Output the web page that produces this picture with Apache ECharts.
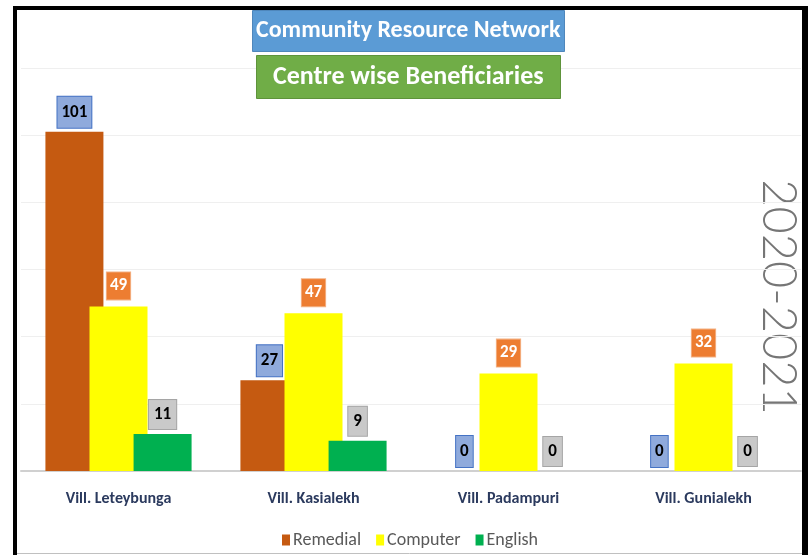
<!DOCTYPE html>
<html>
<head>
<meta charset="utf-8">
<script src="https://cdn.jsdelivr.net/npm/echarts@6/dist/echarts.min.js"></script>
<style>
  html, body { margin: 0; padding: 0; background: #fff; }
  #chart { width: 810px; height: 555px; }
</style>
</head>
<body>
<div id="chart"></div>
<script>
// centre wise beneficiaries 2020-2021
var centres = ['Vill. Leteybunga', 'Vill. Kasialekh', 'Vill. Padampuri', 'Vill. Gunialekh'];
var remedial = [101, 27, 0, 0];
var computer = [49, 47, 29, 32];
var english = [11, 9, 0, 0];
var seriesNames = ['Remedial', 'Computer', 'English'];

var FONT = 'Carlito, "Liberation Sans", sans-serif';

var chart = echarts.init(document.getElementById('chart'));

function labelStyle(bg, border, color, dist, pad) {
    return {
        show: true,
        position: 'top',
        distance: dist,
        fontFamily: FONT,
        fontWeight: 'bold',
        fontSize: 17,
        lineHeight: 17,
        color: color,
        backgroundColor: bg,
        borderColor: border,
        borderWidth: 1,
        padding: pad
    };
}

var option = {
    backgroundColor: '#fff',
    animation: false,
    title: [{
        text: 'Community Resource Network',
        left: 252,
        top: 12,
        padding: [9, 4],
        backgroundColor: '#5B9BD5',
        borderColor: '#4F87BC',
        borderWidth: 1,
        textStyle: { color: '#fff', fontFamily: FONT, fontWeight: 'bold', fontSize: 24, lineHeight: 20 }
    }, {
        text: 'Centre wise Beneficiaries',
        left: 256,
        top: 55,
        padding: [9, 17],
        backgroundColor: '#70AD47',
        borderColor: '#5E933B',
        borderWidth: 1,
        textStyle: { color: '#fff', fontFamily: FONT, fontWeight: 'bold', fontSize: 26, lineHeight: 26 }
    }],
    legend: {
        top: 526,
        left: 277,
        icon: 'rect',
        itemWidth: 8,
        itemHeight: 11,
        itemGap: 15,
        textStyle: { color: '#595959', fontFamily: FONT, fontSize: 18, padding: [0, 0, 0, -2] },
        data: seriesNames
    },
    grid: { left: 21, right: 9, top: 68, bottom: 84 },
    xAxis: {
        type: 'category',
        data: centres,
        axisTick: { show: false },
        axisLine: { lineStyle: { color: '#d0d0d0', width: 2 } },
        axisLabel: {
            margin: 20,
            color: '#2B3A5E',
            fontFamily: FONT,
            fontWeight: 'bold',
            fontSize: 16
        }
    },
    yAxis: {
        type: 'value',
        min: 0,
        max: 120,
        interval: 20,
        axisLabel: { show: false },
        axisLine: { show: false },
        axisTick: { show: false },
        splitLine: { lineStyle: { color: '#efefef', width: 1 } }
    },
    series: [{
        name: 'Remedial',
        type: 'bar',
        barWidth: 58,
        barGap: '-24%',
        data: remedial,
        itemStyle: { color: '#C55A11' },
        label: labelStyle('#8FAADC', '#4472C4', '#000', 4, [7, 4])
    }, {
        name: 'Computer',
        type: 'bar',
        barWidth: 58,
        barGap: '-24%',
        data: computer,
        itemStyle: { color: '#FFFF00' },
        label: labelStyle('#ED7D31', '#F4B183', '#fff', 7, [5, 3])
    }, {
        name: 'English',
        type: 'bar',
        barWidth: 58,
        barGap: '-24%',
        data: english,
        itemStyle: { color: '#00B050' },
        label: labelStyle('#C9C9C9', '#A5A5A5', '#000', 5, [6, 5])
    }],
    graphic: [{
        type: 'text',
        x: 778,
        y: 297,
        rotation: -Math.PI / 2,
        style: {
            text: '2020-2021',
            fill: '#767676',
            font: '300 47px Lato, Carlito, sans-serif',
            align: 'center',
            verticalAlign: 'middle'
        }
    }, {
        type: 'line',
        shape: { x1: 15, y1: 6, x2: 15, y2: 555 },
        style: { stroke: '#000', lineWidth: 4 }
    }, {
        type: 'line',
        shape: { x1: 13, y1: 8, x2: 808, y2: 8 },
        style: { stroke: '#000', lineWidth: 4 }
    }, {
        type: 'line',
        shape: { x1: 805, y1: 6, x2: 805, y2: 555 },
        style: { stroke: '#000', lineWidth: 6 }
    }, {
        type: 'line',
        shape: { x1: 17, y1: 553.5, x2: 802, y2: 553.5 },
        style: { stroke: '#c0c0c0', lineWidth: 1 }
    }]
};

if (option && typeof option === "object") {
    chart.setOption(option, true);
}
</script>
</body>
</html>
